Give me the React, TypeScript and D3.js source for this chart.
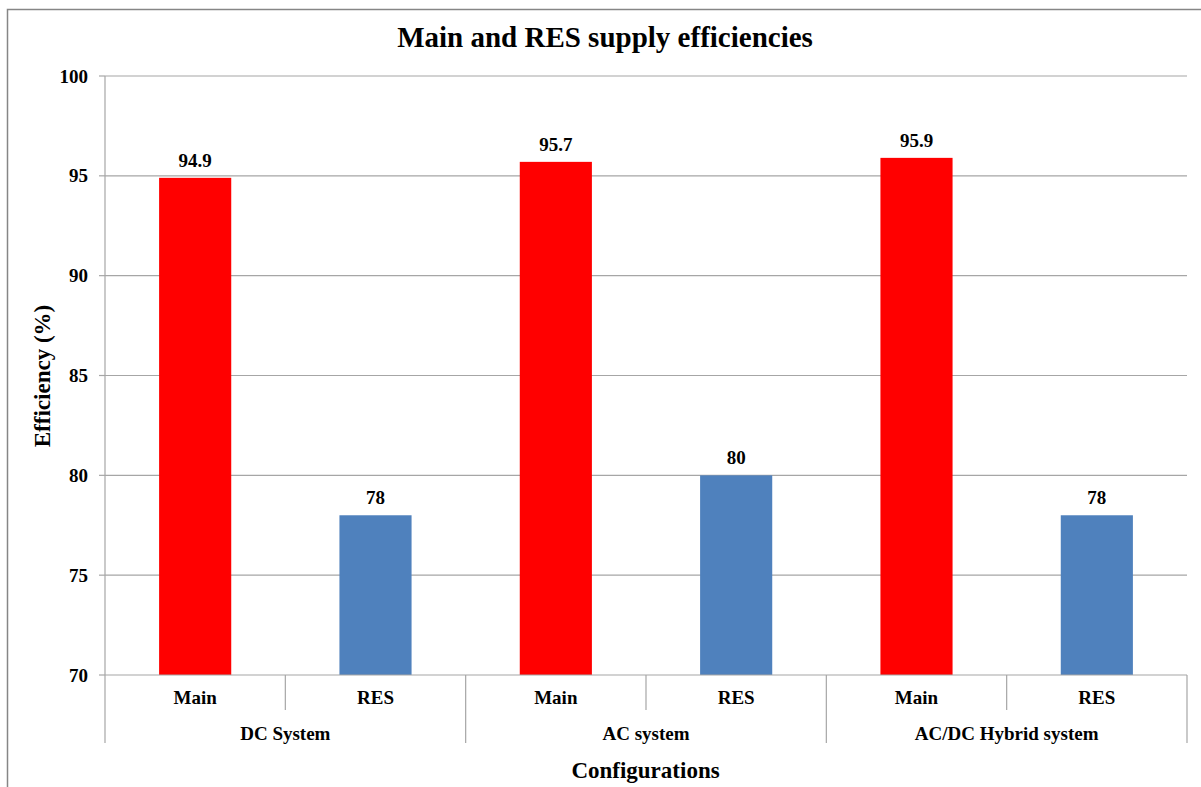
import React from "react";
import * as d3 from "d3";

const groups = ["DC System", "AC system", "AC/DC Hybrid system"];
const subCategories = ["Main", "RES"];
const mainValues = [94.9, 95.7, 95.9];
const resValues = [78, 80, 78];
const yTicks = [70, 75, 80, 85, 90, 95, 100];
const barColors = ["#ff0000", "#4f81bd"];

const W = 1201;
const H = 787;
const plot = { left: 105, right: 1187, top: 76, bottom: 675 };
const FONT = "'Liberation Serif', 'Times New Roman', serif";

export default function App() {
  const items = groups.flatMap((g, gi) =>
    subCategories.map((s, si) => ({
      key: `${gi}-${si}`,
      group: g,
      gi,
      si,
      sub: s,
      value: si === 0 ? mainValues[gi] : resValues[gi],
    }))
  );
  const x = d3
    .scaleBand<string>()
    .domain(items.map((d) => d.key))
    .range([plot.left, plot.right])
    .paddingInner(0.6)
    .paddingOuter(0.3);
  const step = x.step();
  const y = d3.scaleLinear().domain([70, 100]).range([plot.bottom, plot.top]);
  const groupW = (plot.right - plot.left) / groups.length;

  return (
    <svg
      width={W}
      height={H}
      style={{ position: "absolute", left: 0, top: 0, background: "#fff" }}
      fontFamily={FONT}
    >
      <rect x={0} y={0} width={W} height={H} fill="#fff" />
      <rect x={7.5} y={9.5} width={W + 20} height={H + 20} fill="none" stroke="#868686" strokeWidth={1.5} />
      <text x={605} y={47} textAnchor="middle" fontSize={29} fontWeight="bold" fill="#000">
        Main and RES supply efficiencies
      </text>
      {yTicks.map((t) => (
        <g key={t}>
          {t !== 70 && (
            <line x1={plot.left} x2={plot.right} y1={y(t)} y2={y(t)} stroke="#a6a6a6" strokeWidth={1.2} />
          )}
          <line x1={plot.left - 6} x2={plot.left} y1={y(t)} y2={y(t)} stroke="#a6a6a6" strokeWidth={1.2} />
          <text x={88} y={y(t) + 6.5} textAnchor="end" fontSize={19} fontWeight="bold" fill="#000">
            {t}
          </text>
        </g>
      ))}
      <line x1={plot.left} x2={plot.left} y1={plot.top} y2={plot.bottom} stroke="#a6a6a6" strokeWidth={1.2} />
      {items.map((d) => (
        <g key={d.key}>
          <rect
            x={x(d.key)!}
            y={y(d.value)}
            width={x.bandwidth()}
            height={plot.bottom - y(d.value)}
            fill={barColors[d.si]}
          />
          <text
            x={x(d.key)! + x.bandwidth() / 2}
            y={y(d.value) - 11}
            textAnchor="middle"
            fontSize={19}
            fontWeight="bold"
            fill="#000"
          >
            {d.value}
          </text>
          <text
            x={x(d.key)! + x.bandwidth() / 2}
            y={704}
            textAnchor="middle"
            fontSize={19}
            fontWeight="bold"
            fill="#000"
          >
            {d.sub}
          </text>
        </g>
      ))}
      <line x1={plot.left} x2={plot.right} y1={plot.bottom} y2={plot.bottom} stroke="#a6a6a6" strokeWidth={1.2} />
      {groups.map((g, gi) => {
        const gx = plot.left + gi * groupW;
        return (
          <g key={g}>
            <line x1={gx} x2={gx} y1={plot.bottom} y2={743} stroke="#a6a6a6" strokeWidth={1.2} />
            <line
              x1={gx + step}
              x2={gx + step}
              y1={plot.bottom}
              y2={710}
              stroke="#a6a6a6"
              strokeWidth={1.2}
            />
            <text x={gx + groupW / 2} y={739.5} textAnchor="middle" fontSize={19} fontWeight="bold" fill="#000">
              {g}
            </text>
          </g>
        );
      })}
      <line x1={plot.right} x2={plot.right} y1={plot.bottom} y2={743} stroke="#a6a6a6" strokeWidth={1.2} />
      <text x={645.5} y={778} textAnchor="middle" fontSize={23} fontWeight="bold" fill="#000">
        Configurations
      </text>
      <text
        transform={`translate(49.5,${376}) rotate(-90)`}
        textAnchor="middle"
        fontSize={23}
        fontWeight="bold"
        fill="#000"
      >
        Efficiency (%)
      </text>
    </svg>
  );
}
